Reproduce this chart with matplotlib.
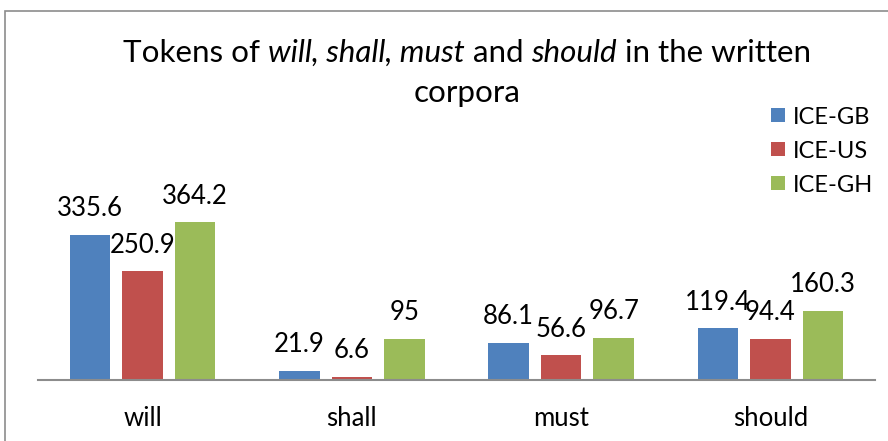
import matplotlib
matplotlib.use("Agg")
import matplotlib.pyplot as plt
import numpy as np
from matplotlib.patches import Rectangle

categories = ["will", "shall", "must", "should"]
series = ["ICE-GB", "ICE-US", "ICE-GH"]
ice_gb = [335.6, 21.9, 86.1, 119.4]
ice_us = [250.9, 6.6, 56.6, 94.4]
ice_gh = [364.2, 95, 96.7, 160.3]
labels_gb = ["335.6", "21.9", "86.1", "119.4"]
labels_us = ["250.9", "6.6", "56.6", "94.4"]
labels_gh = ["364.2", "95", "96.7", "160.3"]
colors = ["#4F81BD", "#C0504D", "#9BBB59"]
title_parts = [("Tokens of ", "normal"), ("will, shall, must", "italic"), (" and ", "normal"),
               ("should", "italic"), (" in the written", "normal")]
title_line2 = "corpora"

plt.rcParams['font.family'] = ['Lato', 'DejaVu Sans']

W, H = 888, 441
fig = plt.figure(figsize=(W / 100, H / 100), dpi=100)
fig.patches.append(Rectangle((5 / W, -0.1), 2, 1 - 11 / H + 0.1, transform=fig.transFigure,
                             fill=False, edgecolor="#8c8c8c", linewidth=1.2))

ax_left, ax_right = 38, 875
ax_bottom = 380
ymax = 400
ppu = 0.433
ax = fig.add_axes([ax_left / W, (H - ax_bottom) / H, (ax_right - ax_left) / W, ymax * ppu / H])
ax.set_xlim(-0.5, 3.5)
ax.set_ylim(0, ymax)

x = np.arange(len(categories))
off = 0.251
width = 0.193
lab_fs = 18.5
for i, (vals, labs) in enumerate([(ice_gb, labels_gb), (ice_us, labels_us), (ice_gh, labels_gh)]):
    bars = ax.bar(x + (i - 1) * off, vals, width, color=colors[i], label=series[i], zorder=2)
    for b, lab in zip(bars, labs):
        ax.annotate(lab, (b.get_x() + b.get_width() / 2, b.get_height()), xytext=(0, 13.5),
                    textcoords="offset points", ha="center", va="baseline",
                    fontsize=lab_fs, color="black")

for s in ["top", "right", "left"]:
    ax.spines[s].set_visible(False)
ax.spines["bottom"].set_color("#8c8c8c")
ax.spines["bottom"].set_linewidth(1.5)
ax.set_yticks([])
ax.set_xticks(x)
ax.set_xticklabels(categories, fontsize=18.5)
ax.tick_params(axis="x", length=0, pad=19)

# title built from styled pieces
title_fs = 22.6
fig.canvas.draw()
renderer = fig.canvas.get_renderer()
texts = []
for s, st in title_parts:
    t = fig.text(0, 1 - 62 / H, s, fontsize=title_fs, style=st, ha="left", va="baseline")
    texts.append(t)
widths = [t.get_window_extent(renderer).width for t in texts]
total = sum(widths)
xpos = 467 - total / 2
for t, w in zip(texts, widths):
    t.set_x(xpos / W)
    xpos += w
fig.text(467 / W, 1 - 102 / H, title_line2, fontsize=title_fs, ha="center", va="baseline")

# legend
leg_fs = 17
for i, name in enumerate(series):
    cy = 115 + 34 * i
    fig.patches.append(Rectangle((771 / W, 1 - (cy + 7) / H), 14 / W, 14 / H, transform=fig.transFigure,
                                 facecolor=colors[i], edgecolor="none"))
    fig.text(793 / W, 1 - cy / H, name, fontsize=leg_fs, ha="left", va="center_baseline")

fig.savefig("out.png", dpi=100)
